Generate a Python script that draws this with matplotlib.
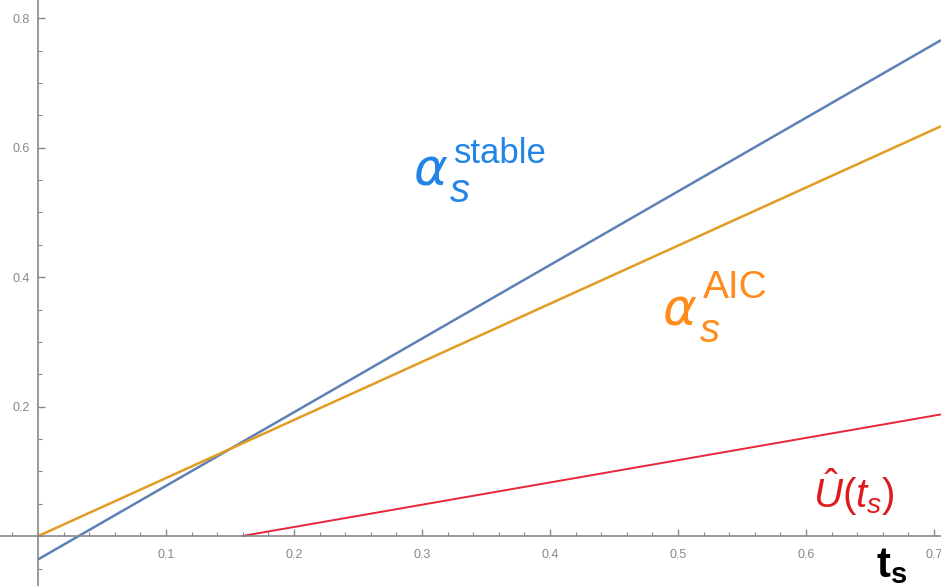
import matplotlib.pyplot as plt
from matplotlib.ticker import MultipleLocator, FixedLocator

# line end points
t_stable = [0.0, 0.7055]
alpha_stable = [-0.036, 0.766]
t_aic = [0.0, 0.7055]
alpha_aic = [0.0, 0.633]
t_u = [0.159, 0.7055]
u_hat = [0.0, 0.188]

x_major = [0.1, 0.2, 0.3, 0.4, 0.5, 0.6, 0.7]
y_major = [0.2, 0.4, 0.6, 0.8]

plt.rcParams["font.family"] = "Liberation Sans"
plt.rcParams["mathtext.fontset"] = "custom"
plt.rcParams["mathtext.rm"] = "Liberation Sans"
plt.rcParams["mathtext.it"] = "Liberation Sans:italic"
plt.rcParams["mathtext.bf"] = "Liberation Sans:bold"

fig = plt.figure(figsize=(9.41, 5.86), dpi=100)
ax = fig.add_axes([0, 0, 1, 1])

ax.plot(t_stable, alpha_stable, color="#5E81B5", lw=1.8, solid_capstyle="butt")
ax.plot(t_aic, alpha_aic, color="#E19C24", lw=1.8, solid_capstyle="butt")
ax.plot(t_u, u_hat, color="#E8263A", lw=1.4, solid_capstyle="butt")

ax.set_xlim(-38 / 1280, 0.7055)
ax.set_ylim(-0.077, 0.828)

for side in ("top", "right"):
    ax.spines[side].set_visible(False)
ax.spines["left"].set_position(("data", 0))
ax.spines["bottom"].set_position(("data", 0))
for side in ("left", "bottom"):
    ax.spines[side].set_color("#888888")
    ax.spines[side].set_linewidth(1.2)

ax.xaxis.set_major_locator(FixedLocator(x_major))
ax.xaxis.set_minor_locator(MultipleLocator(0.02))
ax.yaxis.set_major_locator(FixedLocator(y_major))
ax.yaxis.set_minor_locator(MultipleLocator(0.05))
ax.set_xticklabels([f"{v:.1f}" for v in x_major])
ax.set_yticklabels([f"{v:.1f}" for v in y_major])
ax.tick_params(which="both", direction="in", color="#888888", labelcolor="#888888",
               labelsize=9)
ax.tick_params(which="major", length=5, width=1)
ax.tick_params(which="minor", length=3, width=0.8)
ax.tick_params(axis="x", pad=9)
ax.tick_params(axis="y", pad=6)


def px(x, y):
    # picture pixels -> data coordinates
    return (x - 38) / 1280, (536 - y) / 647.5


def label(x, y, s, color, size, **kw):
    ax.text(*px(x, y), s, color=color, fontsize=size, ha="left", va="baseline", **kw)


blue, orange = "#2284E6", "#FF8C1A"
label(414, 185, "α", blue, 37, fontstyle="italic", family="DejaVu Sans")
label(450, 202, "s", blue, 29, fontstyle="italic")
label(454, 163, "stable", blue, 25)

label(663, 325, "α", orange, 37, fontstyle="italic", family="DejaVu Sans")
label(700, 342, "s", orange, 29, fontstyle="italic")
label(703, 298, "AIC", orange, 28)

label(813, 508, r"$\hat{U}(t_s)$", "#E01A1A", 29)
label(876, 577, r"$\mathbf{t_s}$", "black", 30)

fig.savefig("out.png", dpi=100)
